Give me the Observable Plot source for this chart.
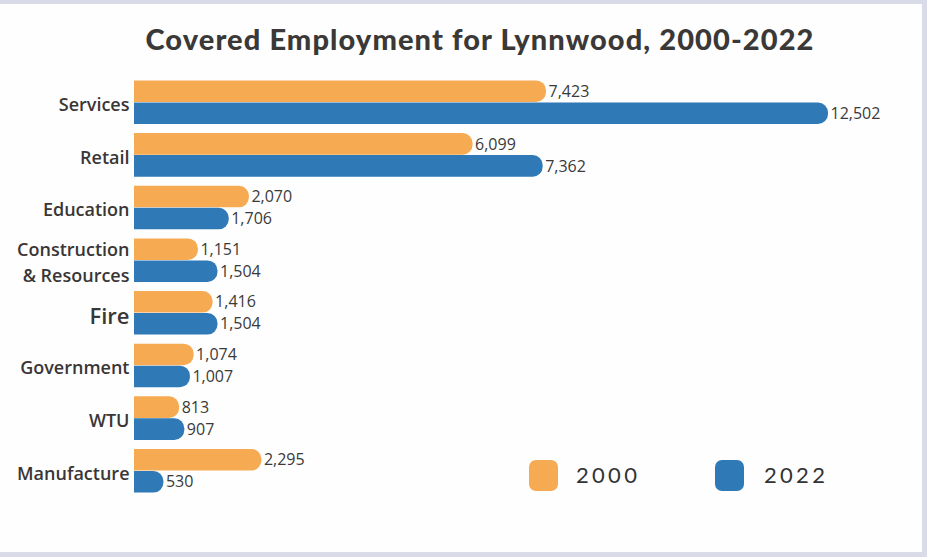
<!DOCTYPE html>
<html>
<head>
<meta charset="utf-8">
<script src="https://cdn.jsdelivr.net/npm/d3@7"></script>
<script src="https://cdn.jsdelivr.net/npm/@observablehq/plot@0.6"></script>
<style>
  html, body { margin: 0; padding: 0; }
  body { width: 927px; height: 557px; background: #d9dce8; position: relative; overflow: hidden; font-family: Lato, "Open Sans", sans-serif; }
  #panel { position: absolute; left: 0; top: 4px; width: 922px; height: 548px; background: #fefefe; }
  #title { position: absolute; left: 0; top: 21px; width: 960px; text-align: center; font-family: Lato, sans-serif; font-weight: 900; font-size: 29px; color: #3b3838; letter-spacing: 1.1px; }
  #chart { position: absolute; left: 0; top: 0; }
  .sw { position: absolute; width: 29px; height: 31px; border-radius: 7px; }
  .lt { position: absolute; font-family: Lato, sans-serif; font-size: 22px; color: #333; letter-spacing: 3.3px; }
</style>
</head>
<body>
<div id="panel"></div>
<div id="chart"></div>
<div id="title">Covered Employment for Lynnwood, 2000-2022</div>
<div class="sw" style="left:529px; top:460px; background:#f6aa52;"></div>
<div class="lt" style="left:576px; top:461px;">2000</div>
<div class="sw" style="left:715px; top:460px; background:#2e79b6;"></div>
<div class="lt" style="left:764px; top:461px;">2022</div>
<script>
const categories = ["Services", "Retail", "Education", "Construction\n& Resources", "Fire", "Government", "WTU", "Manufacture"];
const years = ["2000", "2022"];
const values2000 = [7423, 6099, 2070, 1151, 1416, 1074, 813, 2295];
const values2022 = [12502, 7362, 1706, 1504, 1504, 1007, 907, 530];
const colors = ["#f6aa52", "#2e79b6"];

const data = [];
categories.forEach((c, i) => {
  data.push({category: c, year: years[0], value: values2000[i]});
  data.push({category: c, year: years[1], value: values2022[i]});
});

const chart = Plot.plot({
  width: 927,
  height: 557,
  marginLeft: 134,
  marginRight: 99,
  marginTop: 80,
  marginBottom: 64,
  style: {background: "transparent", fontFamily: "Lato, sans-serif"},
  x: {domain: [0, 12502], axis: null},
  fy: {domain: categories, paddingInner: 0.155, paddingOuter: 0, round: false, axis: null},
  y: {domain: years, padding: 0.02, round: false, axis: null},
  color: {domain: years, range: colors},
  marks: [
    Plot.barX(data, {fy: "category", y: "year", x: "value", fill: "year", rx2: 10}),
    Plot.text(data, {fy: "category", y: "year", x: "value", text: d => d3.format(",")(d.value),
      textAnchor: "start", dx: 2, fontSize: 16, fontFamily: "Open Sans, sans-serif", fill: "#3a3a3a",
      style: "letter-spacing:0.7px"}),
    Plot.text(categories, {fy: d => d, text: d => d, frameAnchor: "left", textAnchor: "end", dx: -5,
      fontSize: d => d === "Fire" ? 22 : 18, fontWeight: 600, fontFamily: "Open Sans, sans-serif",
      fill: "#3a3636", lineHeight: 1.45})
  ]
});
document.getElementById("chart").appendChild(chart);
</script>
</body>
</html>
